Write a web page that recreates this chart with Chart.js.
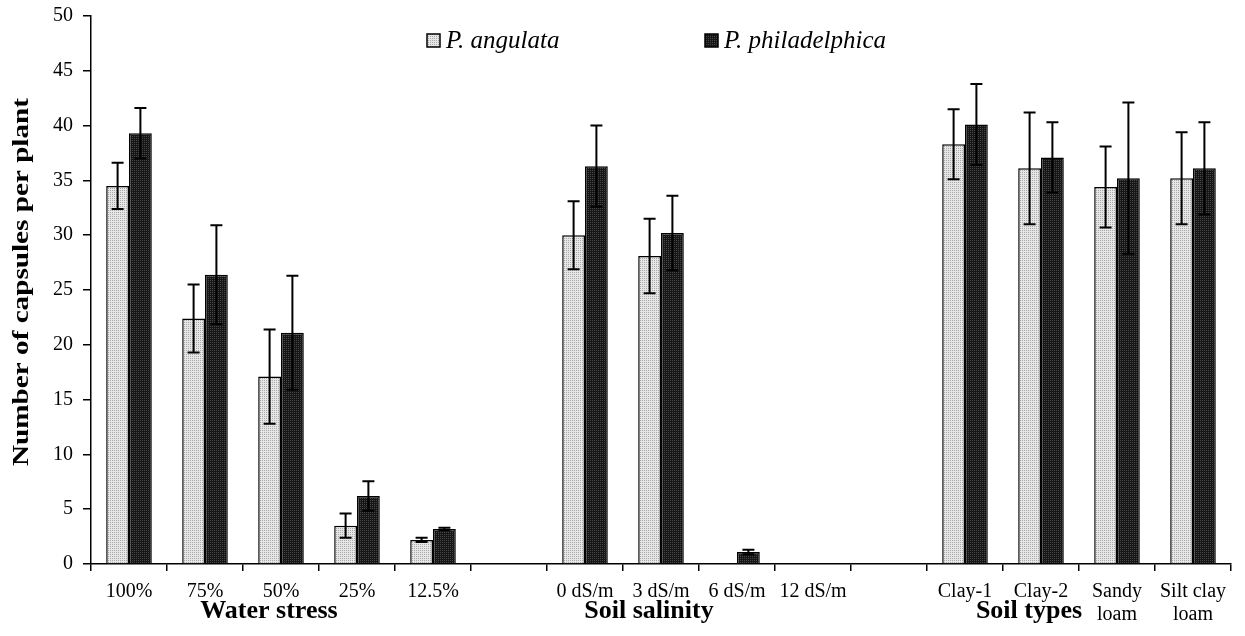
<!DOCTYPE html>
<html>
<head>
<meta charset="utf-8">
<script src="https://cdn.jsdelivr.net/npm/chart.js@4/dist/chart.umd.min.js"></script>
<style>
	body { margin: 0; background: #fff; }
	#wrap { width: 1245px; height: 636px; position: relative; }
</style>
</head>
<body>
<div id="wrap"><canvas id="capsules-canvas"></canvas></div>
<script>
// blank categories are the gaps between the three experiments
const categories = ['100%', '75%', '50%', '25%', '12.5%', '', '0 dS/m', '3 dS/m', '6 dS/m', '12 dS/m', '', 'Clay-1', 'Clay-2', ['Sandy', 'loam'], ['Silt clay', 'loam']];
const groupLabels = ['Water stress', 'Soil salinity', 'Soil types'];
const groupAt = [2, 7, 12]; // category index each group label sits under

const seriesNames = ['P. angulata', 'P. philadelphica'];
const angulata = [34.5, 22.4, 17.1, 3.5, 2.2, null, 30.0, 28.1, 0, 0, null, 38.3, 36.1, 34.4, 35.2];
const angulataErr = [2.1, 3.1, 4.3, 1.1, 0.2, null, 3.1, 3.4, null, null, null, 3.2, 5.1, 3.7, 4.2];
const philadelphica = [39.3, 26.4, 21.1, 6.2, 3.2, null, 36.3, 30.2, 1.1, 0, null, 40.1, 37.1, 35.2, 36.1];
const philadelphicaErr = [2.3, 4.5, 5.2, 1.35, 0.1, null, 3.7, 3.4, 0.2, null, null, 3.7, 3.2, 6.9, 4.2];

const yTitle = 'Number of capsules per plant';
const serif = "'Liberation Serif', 'Times New Roman', serif";

// dotted fills like the printed figure
function makePattern(base, dot) {
	const c = document.createElement('canvas');
	c.width = 2; c.height = 2;
	const g = c.getContext('2d');
	g.fillStyle = base;
	g.fillRect(0, 0, 2, 2);
	g.fillStyle = dot;
	g.fillRect(0, 0, 1, 1);
	return g.createPattern(c, 'repeat');
}
const lightFill = makePattern('#e6e6e6', '#a8a8a8');
const darkFill = makePattern('#161616', '#474747');

const errorBars = {
	id: 'errorBars',
	afterDatasetsDraw(chart) {
		const ctx = chart.ctx;
		const y = chart.scales.y;
		const errs = [angulataErr, philadelphicaErr];
		ctx.save();
		ctx.strokeStyle = '#000';
		ctx.lineWidth = 2;
		chart.data.datasets.forEach((ds, i) => {
			chart.getDatasetMeta(i).data.forEach((bar, j) => {
				const v = ds.data[j], e = errs[i][j];
				if (v == null || e == null) return;
				const top = y.getPixelForValue(v + e), bot = y.getPixelForValue(v - e);
				ctx.beginPath();
				ctx.moveTo(bar.x, top); ctx.lineTo(bar.x, bot);
				ctx.moveTo(bar.x - 6, top); ctx.lineTo(bar.x + 6, top);
				ctx.moveTo(bar.x - 6, bot); ctx.lineTo(bar.x + 6, bot);
				ctx.stroke();
			});
		});
		ctx.restore();
	}
};

const extras = {
	id: 'extras',
	afterDraw(chart) {
		const ctx = chart.ctx;
		const x = chart.scales.x;
		ctx.save();
		ctx.fillStyle = '#000';

		// y axis title, stretched like the original
		ctx.save();
		ctx.translate(22, 282);
		ctx.rotate(-Math.PI / 2);
		ctx.font = 'bold 23px ' + serif;
		const w = ctx.measureText(yTitle).width;
		ctx.scale(368 / w, 1);
		ctx.textAlign = 'center';
		ctx.textBaseline = 'middle';
		ctx.fillText(yTitle, 0, 0);
		ctx.restore();

		// experiment labels under the axis
		ctx.font = 'bold 26px ' + serif;
		ctx.textAlign = 'center';
		ctx.textBaseline = 'alphabetic';
		groupLabels.forEach((t, i) => {
			ctx.fillText(t, x.getPixelForValue(groupAt[i]) - 12, 618);
		});

		// legend inside the plot
		const fills = [lightFill, darkFill];
		const lx = [427, 705];
		ctx.font = 'italic 25px ' + serif;
		ctx.textAlign = 'left';
		seriesNames.forEach((n, i) => {
			ctx.fillStyle = fills[i];
			ctx.fillRect(lx[i], 34, 13, 13);
			ctx.strokeStyle = '#000';
			ctx.lineWidth = 1.5;
			ctx.strokeRect(lx[i], 34, 13, 13);
			ctx.fillStyle = '#000';
			ctx.fillText(n, lx[i] + 19, 48);
		});
		ctx.restore();
	}
};

new Chart('capsules-canvas', {
	type: 'bar',
	data: {
		labels: categories,
		datasets: [
			{
				label: seriesNames[0],
				data: angulata,
				backgroundColor: lightFill,
				borderColor: '#000',
				borderWidth: 1.5,
				categoryPercentage: 0.6,
				barPercentage: 1.0
			},
			{
				label: seriesNames[1],
				data: philadelphica,
				backgroundColor: darkFill,
				borderColor: '#000',
				borderWidth: 1.5,
				categoryPercentage: 0.6,
				barPercentage: 1.0
			}
		]
	},
	options: {
		responsive: true,
		maintainAspectRatio: false,
		animation: false,
		layout: {
			padding: { top: 16, right: 14, left: 0, bottom: 0 }
		},
		scales: {
			x: {
				afterFit: s => { s.height = 72; },
				grid: {
					drawOnChartArea: false,
					offset: true,
					color: '#000',
					lineWidth: 1.5,
					tickLength: 7
				},
				border: { color: '#000', width: 1.5 },
				ticks: {
					color: '#000',
					font: { family: serif, size: 20, lineHeight: 1.15 },
					padding: 9,
					maxRotation: 0,
					autoSkip: false
				}
			},
			y: {
				min: 0,
				max: 50,
				afterFit: s => { s.width = 91; s.paddingTop = 10; s.paddingBottom = 0; },
				grid: {
					drawOnChartArea: false,
					color: '#000',
					lineWidth: 1.5,
					tickLength: 8
				},
				border: { color: '#000', width: 1.5 },
				ticks: {
					stepSize: 5,
					color: '#000',
					font: { family: serif, size: 20 },
					padding: 10
				}
			}
		},
		plugins: {
			tooltip: { enabled: false },
			legend: { display: false }
		}
	},
	plugins: [errorBars, extras]
});
</script>
</body>
</html>
